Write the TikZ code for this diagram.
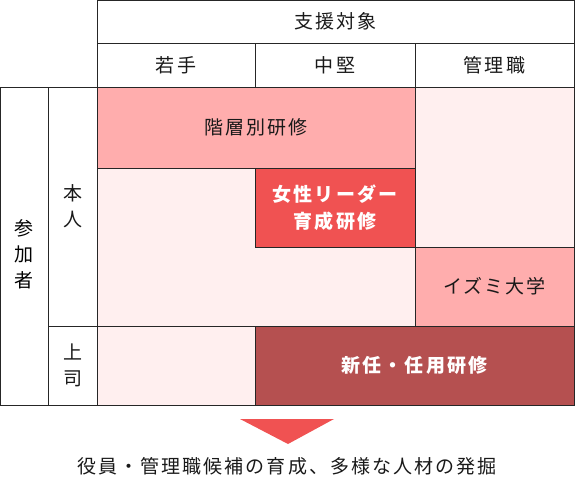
\documentclass[tikz,border=0pt]{standalone}
\usepackage{fontspec}
\newfontfamily\jp[LetterSpace=11]{Noto Sans CJK JP}
\definecolor{palepink}{HTML}{FFEFEF}
\definecolor{midpink}{HTML}{FFADAD}
\definecolor{redbox}{HTML}{F05252}
\definecolor{darkred}{HTML}{B55050}
\begin{document}
\begin{tikzpicture}[x=1pt,y=-1pt,
    cell/.style n args={2}{draw=black!85,line width=0.9pt,minimum width=#1,minimum height=#2,inner sep=0pt,
      font=\jp\fontsize{19}{26}\selectfont,text=black!90,align=center},
    boldtext/.style={text=white,font=\jp\bfseries\fontsize{19}{27}\selectfont}]
  \useasboundingbox (0,0) rectangle (575,479);
  % header
  \node[cell={477pt}{43pt}] (target) at (335.5,21.5) {支援対象};
  \node[cell={158pt}{44pt}] (young) at (176,65) {若手};
  \node[cell={160pt}{44pt}] (middle) at (335,65) {中堅};
  \node[cell={159pt}{44pt}] (manager) at (494.5,65) {管理職};
  % left columns
  \node[cell={48pt}{318pt},label={[font=\jp\fontsize{19}{26}\selectfont,align=center,yshift=-8pt]center:参\\加\\者}] (attendee) at (24,246) {};
  \node[cell={49pt}{239pt}] (self) at (72.5,206.5) {本\\人};
  \node[cell={49pt}{79pt}] (boss) at (72.5,365.5) {上\\司};
  % body
  \filldraw[fill=palepink,draw=black!85,line width=0.9pt] (97,168) -- (255,168) -- (255,247) -- (415,247) -- (415,326) -- (97,326) -- cycle;
  \node[cell={318pt}{81pt},fill=midpink] (tiered) at (256,127.5) {階層別研修};
  \node[cell={159pt}{160pt},fill=palepink] (mgrblank) at (494.5,167) {};
  \node[cell={160pt}{79pt},fill=redbox,boldtext] (women) at (335,207.5) {女性リーダー\\育成研修};
  \node[cell={159pt}{79pt},fill=midpink] (izumi) at (494.5,286.5) {イズミ大学};
  \node[cell={158pt}{79pt},fill=palepink] (bossblank) at (176,365.5) {};
  \node[cell={319pt}{79pt},fill=darkred,boldtext] (newpost) at (414.5,365.5) {新任・任用研修};
  % result
  \fill[redbox] (240,419) -- (334,419) -- (288,444) -- cycle;
  \node[font=\jp\fontsize{19}{26}\selectfont,text=black!90] (goal) at (287,466) {役員・管理職候補の育成、多様な人材の発掘};
\end{tikzpicture}
\end{document}
